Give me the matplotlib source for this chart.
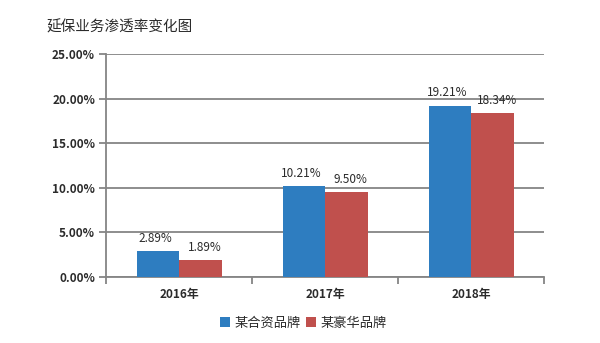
import matplotlib
matplotlib.use('Agg')
import matplotlib.pyplot as plt
import numpy as np

plt.rcParams['font.family'] = ['Noto Sans CJK SC', 'DejaVu Sans']

# data
years = ['2016年', '2017年', '2018年']
joint_brand = [2.89, 10.21, 19.21]
luxury_brand = [1.89, 9.50, 18.34]
series_names = ['某合资品牌', '某豪华品牌']

blue = '#2E7DC0'
red = '#C0504D'
grid_gray = '#858585'
text_gray = '#2B2B2B'

fig = plt.figure(figsize=(6, 3.43), dpi=100)
ax = fig.add_axes([0.177, 0.192, 0.73, 0.651])

x = np.arange(len(years))
w = 0.29
b1 = ax.bar(x - w / 2, joint_brand, w, color=blue, label=series_names[0], zorder=3)
b2 = ax.bar(x + w / 2, luxury_brand, w, color=red, label=series_names[1], zorder=3)

for rect, v in zip(b1, joint_brand):
    ax.text(rect.get_x() + rect.get_width() / 2 - 0.02, v + 0.7, f'{v:.2f}%',
            ha='center', va='bottom', fontsize=8.5, color=text_gray)
for rect, v in zip(b2, luxury_brand):
    ax.text(rect.get_x() + rect.get_width() / 2 + 0.03, v + 0.7, f'{v:.2f}%',
            ha='center', va='bottom', fontsize=8.5, color=text_gray)

ax.set_xlim(-0.5, 2.5)
ax.set_ylim(0, 25)
ax.set_yticks(np.arange(0, 26, 5))
ax.set_yticklabels([f'{t:.2f}%' for t in np.arange(0, 26, 5)], fontsize=8.5,
                   color=text_gray, fontweight='bold')
ax.set_xticks(x)
ax.set_xticklabels(years, fontsize=8.5, color=text_gray, fontweight='bold')
ax.tick_params(axis='x', length=0, pad=8)
ax.set_xticks([-0.5, 0.5, 1.5, 2.5], minor=True)
ax.tick_params(axis='x', which='minor', length=5, color=grid_gray, width=1.3)
ax.tick_params(axis='y', length=5, color=grid_gray, width=1.3, pad=3)

ax.yaxis.grid(True, color=grid_gray, linewidth=1.3, zorder=0)
ax.set_axisbelow(True)
for s in ['top', 'right']:
    ax.spines[s].set_visible(False)
ax.spines['left'].set_color(grid_gray)
ax.spines['left'].set_linewidth(1.3)
ax.spines['bottom'].set_color(grid_gray)
ax.spines['bottom'].set_linewidth(1.3)

fig.text(0.078, 0.92, '延保业务渗透率变化图', fontsize=10.5, color=text_gray, va='center')

fig.legend(loc='center', bbox_to_anchor=(0.505, 0.058), ncol=2, frameon=False,
           fontsize=9.5, handlelength=0.8, handleheight=0.8, handletextpad=0.3,
           columnspacing=0.4, labelcolor=text_gray)

fig.savefig('out.png', dpi=100, facecolor='white')
